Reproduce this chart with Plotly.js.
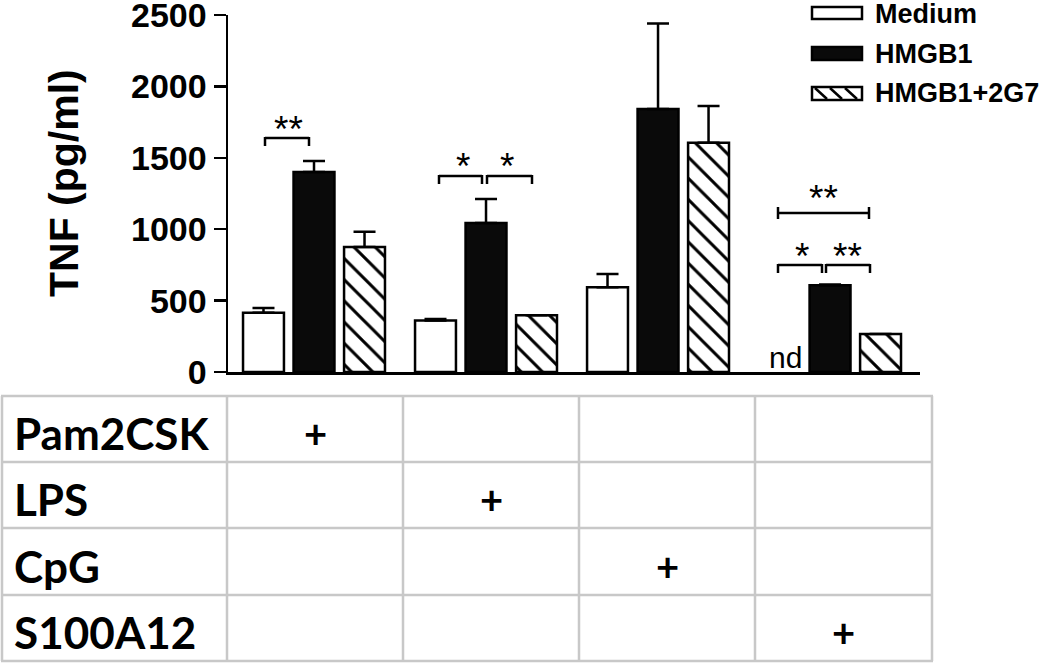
<!DOCTYPE html>
<html>
<head>
<meta charset="utf-8">
<script src="https://cdn.plot.ly/plotly-3.0.1.min.js"></script>
<style>html,body{margin:0;padding:0;background:#fff;}#chart{width:1050px;height:664px;}</style>
</head>
<body>
<div id="chart"></div>
<script>
// ---- data ----
const stimuli = ['Pam2CSK', 'LPS', 'CpG', 'S100A12'];
const seriesNames = ['Medium', 'HMGB1', 'HMGB1+2G7'];
const medium = [415, 360, 593, null];
const mediumErr = [33, 11, 93, 0];
const hmgb1 = [1400, 1043, 1841, 607];
const hmgb1Err = [78, 168, 600, 6];
const hmgb1_2g7 = [875, 398, 1606, 266];
const hmgb1_2g7Err = [107, 0, 257, 0];
const yTicks = [0, 500, 1000, 1500, 2000, 2500];
const yTitle = 'TNF (pg/ml)';
const signif = ['**', '*', '*', '**', '*', '**'];
const ndLabel = 'nd';
// stimulus present per table row (row i -> column of group)
const present = [[1,0,0,0],[0,1,0,0],[0,0,1,0],[0,0,0,1]];

// ---- layout geometry (pixels) ----
const W = 1050, H = 664;
const ML = 228, MR = 130, MT = 15, MB = 292;
const PW = W - ML - MR, PH = H - MT - MB;
const X = px => (px - ML) / PW;
const Y = py => (H - MB - py) / PH;

const FONT = 'Liberation Sans, Arial, sans-serif';
const TFONT = 'Lato, Open Sans, sans-serif';

function bar(name, vals, errs, marker) {
  return {
    type: 'bar', name: name, x: stimuli, y: vals,
    marker: marker,
    error_y: {type: 'data', array: errs, arrayminus: errs.map(() => 0), symmetric: false,
              visible: true, color: '#000', thickness: 2.5, width: 11},
    showlegend: false, hoverinfo: 'x+y+name'
  };
}
const lineSpec = {color: '#000', width: 2.5};
const traces = [
  bar(seriesNames[0], medium, mediumErr, {color: '#fff', line: lineSpec}),
  bar(seriesNames[1], hmgb1, hmgb1Err, {color: '#0a0a0a', line: lineSpec}),
  bar(seriesNames[2], hmgb1_2g7, hmgb1_2g7Err,
      {color: '#fff', line: lineSpec,
       pattern: {shape: '\\', fgcolor: '#000', bgcolor: '#fff', size: 15, solidity: 0.2}})
];

const shapes = [];
const annotations = [];
function seg(x0, y0, x1, y1, color, width) {
  shapes.push({type: 'line', xref: 'paper', yref: 'paper', x0: X(x0), y0: Y(y0), x1: X(x1), y1: Y(y1),
               line: {color: color || '#000', width: width || 2.5}});
}
function rect(x0, y0, x1, y1, fill) {
  shapes.push({type: 'rect', xref: 'paper', yref: 'paper', x0: X(x0), y0: Y(y0), x1: X(x1), y1: Y(y1),
               fillcolor: fill, line: {color: '#000', width: 2.5}});
}
function text(t, px, py, size, opts) {
  opts = opts || {};
  annotations.push({xref: 'paper', yref: 'paper', x: X(px), y: Y(py), text: t, showarrow: false,
    xanchor: opts.xanchor || 'center', yanchor: 'middle', textangle: opts.angle || 0,
    font: {family: opts.family || FONT, size: size, color: '#000', weight: opts.weight || 'normal'}});
}
// brackets: [x0, x1, y, legDown]
function bracket(x0, x1, y, leg) {
  seg(x0, y, x1, y); seg(x0, y - 1, x0, y + leg); seg(x1, y - 1, x1, y + leg);
}
bracket(265, 309, 138, 8);
bracket(439, 482, 176, 8);
bracket(487, 532, 176, 8);
bracket(778, 822, 265, 8);
bracket(826, 870, 265, 8);
// H-shaped long bracket
seg(778, 213, 869, 213); seg(778, 207, 778, 219); seg(869, 207, 869, 219);

const starPos = [[288, 129], [463, 166], [507, 166], [823, 199], [802, 256], [847, 256]];
starPos.forEach((p, i) => text(signif[i], p[0], p[1], 37, {}));
text(ndLabel, 785, 357, 30, {});

// y-axis title
text(yTitle, 64, 183, 41, {angle: -90, weight: 'bold'});

// legend
rect(812, 7, 862, 19, '#fff');
rect(812, 47, 862, 60, '#0a0a0a');
rect(812, 87, 862, 100, '#fff');
[815, 830, 845].forEach(x0 => seg(x0, 88, Math.min(x0 + 12, 861), 99, '#000', 2.5));
text(seriesNames[0], 873, 14, 27, {xanchor: 'left', weight: 'bold'});
text(seriesNames[1], 873, 54, 27, {xanchor: 'left', weight: 'bold'});
text(seriesNames[2], 873, 93, 27, {xanchor: 'left', weight: 'bold'});

// table below the chart
const rowsY = [396, 462, 528, 595, 661];
const colsX = [2, 227, 403, 579, 755, 932];
const grid = '#c8c8c8';
rowsY.forEach(y => seg(colsX[0] - 1, y, colsX[colsX.length - 1] + 1, y, grid, 2.5));
colsX.forEach(x => seg(x, rowsY[0], x, rowsY[rowsY.length - 1], grid, 2.5));
stimuli.forEach((s, r) => {
  const cy = (rowsY[r] + rowsY[r + 1]) / 2;
  text(s, 12, cy + 4, 44, {xanchor: 'left', family: TFONT, weight: 'bold'});
  present[r].forEach((v, c) => {
    if (v) text('+', (colsX[c + 1] + colsX[c + 2]) / 2, cy + 4, 40, {family: TFONT, weight: 'bold'});
  });
});

const layout = {
  width: W, height: H,
  margin: {l: ML, r: MR, t: MT, b: MB, pad: 0},
  paper_bgcolor: '#fff', plot_bgcolor: '#fff',
  barmode: 'group', bargap: 0.119, bargroupgap: 0.19,
  showlegend: false,
  xaxis: {type: 'category', range: [-0.5, 3.523], showticklabels: false, ticks: '',
          showline: true, linecolor: '#000', linewidth: 2.5, showgrid: false, zeroline: false, fixedrange: true},
  yaxis: {range: [0, 2500], tickvals: yTicks, ticktext: yTicks.map(String), ticks: 'outside', ticklen: 12,
          tickwidth: 2.5, tickcolor: '#000', showline: true, linecolor: '#000', linewidth: 2.5,
          showgrid: false, zeroline: false, fixedrange: true, ticklabeloverflow: 'allow',
          tickfont: {family: FONT, size: 34, color: '#000', weight: 'bold'}},
  shapes: shapes, annotations: annotations
};
Plotly.newPlot('chart', traces, layout, {displayModeBar: false, staticPlot: true});
</script>
</body>
</html>
